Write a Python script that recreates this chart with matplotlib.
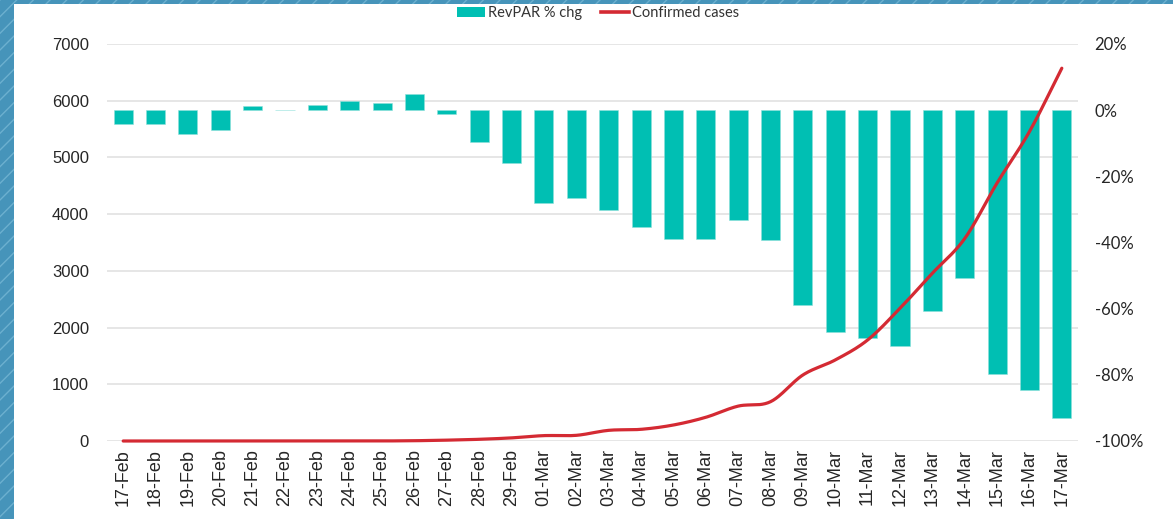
import matplotlib
matplotlib.use("Agg")
import matplotlib.pyplot as plt
import numpy as np
from matplotlib.patches import Rectangle, Patch
from matplotlib.lines import Line2D

# ---- data ----
dates = ["17-Feb", "18-Feb", "19-Feb", "20-Feb", "21-Feb", "22-Feb", "23-Feb", "24-Feb",
         "25-Feb", "26-Feb", "27-Feb", "28-Feb", "29-Feb", "01-Mar", "02-Mar", "03-Mar",
         "04-Mar", "05-Mar", "06-Mar", "07-Mar", "08-Mar", "09-Mar", "10-Mar", "11-Mar",
         "12-Mar", "13-Mar", "14-Mar", "15-Mar", "16-Mar", "17-Mar"]
revpar_chg = [-4.2, -4.2, -7.3, -6.1, 1.3, 0.2, 1.5, 2.7, 2.1, 5.0, -1.3, -9.7, -16.1,
              -28.0, -26.6, -30.1, -35.2, -38.9, -38.9, -33.3, -39.3, -58.9, -67.0,
              -69.0, -71.4, -60.6, -50.8, -79.8, -84.6, -93.1]
confirmed = [0, 0, 0, 0, 0, 0, 0, 0, 1, 5, 15, 30, 55, 95, 100, 188, 206, 282, 418,
             615, 693, 1164, 1429, 1781, 2340, 2958, 3570, 4550, 5455, 6573]
left_ticks = [0, 1000, 2000, 3000, 4000, 5000, 6000, 7000]
right_ticks = [-100, -80, -60, -40, -20, 0, 20]

BAR_C = "#00BFB3"
LINE_C = "#D42A33"

W, H = 1173, 519
fig = plt.figure(figsize=(W / 100, H / 100), dpi=100)
fig.patch.set_facecolor("white")

# decorative blue frame (left and top strips)
for (x0, y0, w, h) in [(0, 0, 14 / W, 1), (0, 1 - 4 / H, 1, 4 / H)]:
    fig.patches.append(Rectangle((x0, y0), w, h, transform=fig.transFigure,
                                 facecolor="#4694ba", edgecolor="#6cb0cf", hatch="//",
                                 linewidth=0, zorder=0))

ax = fig.add_axes([107 / W, 1 - 441 / H, 971 / W, 397 / H])
ax2 = ax.twinx()

x = np.arange(len(dates))

# left axis (confirmed cases) with grid
ax.set_ylim(0, 7000)
ax.set_xlim(-0.5, len(dates) - 0.5)
ax.set_yticks(left_ticks)
ax.set_yticklabels([str(t) for t in left_ticks], family="Liberation Sans", fontsize=12,
                   color="#262626")
ax.grid(axis="y", color="#e2e2e2", linewidth=1.2)
ax.set_axisbelow(True)
ax.tick_params(axis="y", length=0, pad=13)
ax.set_xticks(x)
ax.set_xticklabels(dates, rotation=90, family="Liberation Sans", fontsize=13,
                   color="#262626")
ax.tick_params(axis="x", length=0, pad=6)
for s in ax.spines.values():
    s.set_visible(False)

# right axis: bars
ax2.set_ylim(-100, 20)
ax2.set_yticks(right_ticks)
ax2.set_yticklabels([f"{t}%" for t in right_ticks], family="Lato", fontsize=12,
                    color="#262626")
ax2.tick_params(axis="y", length=0, pad=12)
for s in ax2.spines.values():
    s.set_visible(False)
ax2.bar(x, revpar_chg, width=0.59, color=BAR_C, edgecolor="#8fe0da", linewidth=0.4,
        zorder=2)

# smoothed line (Catmull-Rom through data points), drawn above bars using left scale
xs = x.astype(float)
ys = np.asarray(confirmed, dtype=float)
px = np.concatenate([[2 * xs[0] - xs[1]], xs, [2 * xs[-1] - xs[-2]]])
py = np.concatenate([[2 * ys[0] - ys[1]], ys, [2 * ys[-1] - ys[-2]]])
sx, sy = [], []
t = np.linspace(0, 1, 24, endpoint=False)
for i in range(1, len(px) - 2):
    p0, p1, p2, p3 = py[i - 1], py[i], py[i + 1], py[i + 2]
    q0, q1, q2, q3 = px[i - 1], px[i], px[i + 1], px[i + 2]
    for (a0, a1, a2, a3, out) in [(q0, q1, q2, q3, sx), (p0, p1, p2, p3, sy)]:
        out.extend(0.5 * ((2 * a1) + (-a0 + a2) * t + (2 * a0 - 5 * a1 + 4 * a2 - a3) * t ** 2
                          + (-a0 + 3 * a1 - 3 * a2 + a3) * t ** 3))
sx.append(xs[-1]); sy.append(ys[-1])
ax2.plot(sx, sy, color=LINE_C, linewidth=2.3, transform=ax.transData, zorder=3,
         solid_capstyle="round", clip_on=False)

# legend
handles = [Patch(facecolor=BAR_C, edgecolor="none"),
           Line2D([0], [0], color=LINE_C, linewidth=2.6)]
fig.legend(handles, ["RevPAR % chg", "Confirmed cases"], loc="center",
           bbox_to_anchor=(598 / W, 1 - 13 / H), ncol=2, frameon=False,
           prop={"family": "Lato", "size": 10.5}, handlelength=1.9, handleheight=0.75,
           handletextpad=0.2, columnspacing=1.3, borderpad=0, labelcolor="#333333")

fig.savefig("out.png", dpi=100, facecolor=fig.get_facecolor())
